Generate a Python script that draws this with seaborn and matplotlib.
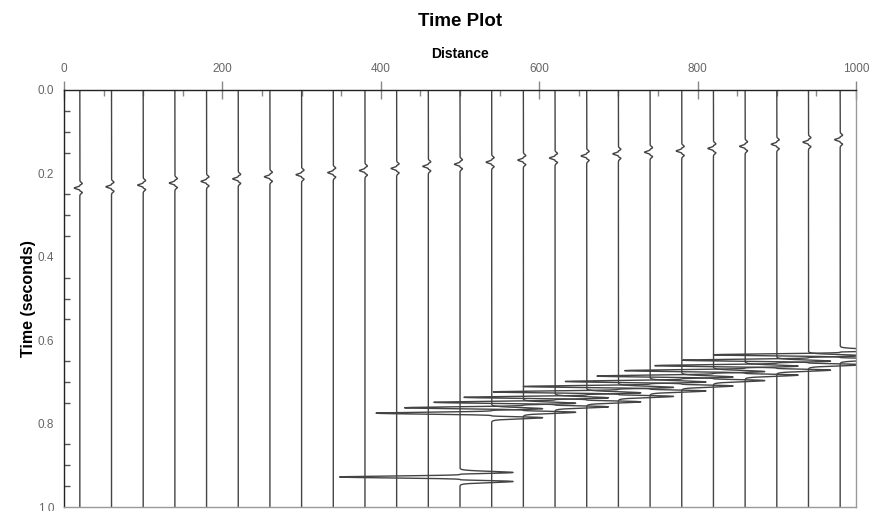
import numpy as np
import pandas as pd
import matplotlib
matplotlib.use("Agg")
import matplotlib.pyplot as plt
import seaborn as sns
from matplotlib.ticker import MultipleLocator

# -------------------------
# Picked data
# -------------------------
# trace positions along the line
distances = [20, 60, 100, 140, 180, 220, 260, 300, 340, 380, 420, 460, 500,
             540, 580, 620, 660, 700, 740, 780, 820, 860, 900, 940, 980]
# direct arrival time (s) on each trace
direct_times = [0.235, 0.232, 0.228, 0.223, 0.219, 0.213, 0.208, 0.203, 0.198,
                0.193, 0.188, 0.183, 0.178, 0.173, 0.168, 0.163, 0.158, 0.153,
                0.149, 0.146, 0.140, 0.135, 0.130, 0.125, 0.119]
# direct arrival amplitude (distance units)
direct_amps = [7, 7, 7, 7, 7, 7, 7, 7, 7, 7, 7, 7, 7,
               7, 7, 7, 7, 7, 7, 7, 7, 7, 7, 7, 7]
# big arrival time (s), nan where the trace has none
refl_times = [np.nan] * 12 + [0.928, 0.775, 0.762, 0.749, 0.737, 0.724, 0.711,
                              0.699, 0.686, 0.673, 0.661, 0.648, 0.635]
# big arrival amplitude (distance units)
refl_amps = [0] * 12 + [152, 146, 150, 153, 155, 158, 160,
                        147, 147, 152, 154, 159, 160]

FREQ = 36.0   # wavelet peak frequency (Hz)
SHARP = 2.5   # makes the lobes spiky like the original display
SIDE = 0.44   # side lobe / main lobe ratio
DT = 0.0002   # sample interval (s)


def wavelet(t, f=FREQ):
    # Ricker wavelet with sharpened lobes
    a = (np.pi * f * t) ** 2
    r = (1 - 2 * a) * np.exp(-a)
    main = np.clip(r, 0, None) ** SHARP
    side = (np.clip(-r, 0, None) / 0.446) ** SHARP * SIDE
    return main - side


# -------------------------
# Build wiggle traces
# -------------------------
time = np.arange(0, 1.0 + DT, DT)
frames = []
for i, (d, td, ad, tr, ar) in enumerate(zip(distances, direct_times, direct_amps,
                                            refl_times, refl_amps)):
    x = d - ad * wavelet(time - td)
    if ar > 0:
        x = x - ar * wavelet(time - tr)
    frames.append(pd.DataFrame({"trace": i, "time": time, "distance": x}))
df = pd.concat(frames, ignore_index=True)

# -------------------------
# Plot
# -------------------------
sns.set_style("white")
plt.rcParams['font.family'] = ['Liberation Sans', 'DejaVu Sans']
plt.rcParams['text.color'] = 'black'
plt.rcParams['axes.labelcolor'] = 'black'

fig = plt.figure(figsize=(8.79, 5.11), dpi=100)
ax = fig.add_axes([64 / 879, 4 / 511, 792 / 879, 417 / 511])

sns.lineplot(data=df, x="distance", y="time", units="trace", estimator=None,
             sort=False, orient="y", color="#444444", lw=1.0, ax=ax)

ax.set_xlim(0, 1000)
ax.set_ylim(1.0, 0.0)

ax.xaxis.tick_top()
ax.xaxis.set_label_position("top")
ax.set_xticks(range(0, 1001, 200))
ax.xaxis.set_minor_locator(MultipleLocator(50))
ax.set_yticks([0.0, 0.2, 0.4, 0.6, 0.8, 1.0])
ax.set_yticklabels(["0.0", "0.2", "0.4", "0.6", "0.8", "1.0"])
ax.yaxis.set_minor_locator(MultipleLocator(0.05))

ax.tick_params(axis="x", which="major", direction="inout", length=13, width=1,
               color="#888888", labelsize=8.5, labelcolor="#666666", pad=4)
ax.tick_params(axis="x", which="minor", direction="in", length=4, width=1,
               color="#888888", top=True, bottom=False)
ax.tick_params(axis="y", which="major", direction="inout", length=10, width=1,
               color="#555555", labelsize=8.5, labelcolor="#666666", pad=2)
ax.tick_params(axis="y", which="minor", direction="in", length=4, width=1,
               color="#555555", left=True)

for side in ["left", "top"]:
    ax.spines[side].set_color("#222222")
    ax.spines[side].set_linewidth(1)
for side in ["right", "bottom"]:
    ax.spines[side].set_color("#999999")
    ax.spines[side].set_linewidth(1)

ax.set_xlabel("Distance", fontsize=10, fontweight="bold", labelpad=4)
ax.set_ylabel("Time (seconds)", fontsize=11.5, fontweight="bold", labelpad=1)
fig.text(460 / 879, 1 - 21 / 511, "Time Plot", ha="center", va="center",
         fontsize=13.5, fontweight="bold")

fig.savefig("out.png", dpi=100)
